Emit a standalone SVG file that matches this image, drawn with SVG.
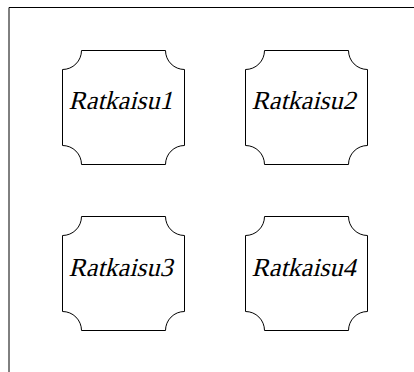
<svg xmlns="http://www.w3.org/2000/svg" width="414" height="372" viewBox="0 0 414 372">
<style>
.frame{fill:none;stroke:#000;stroke-width:1}
.node path{fill:#fff;stroke:#000;stroke-width:1}
.lbl{font-family:'Liberation Serif','Times New Roman',serif;font-size:26px;fill:#000;text-anchor:middle}
</style>
<path class="frame" d="M9 372V7.5H414"/>
<g id="node-ratkaisu1" class="node">
<path d="M81.5 50.5H165.5A19 19 0 0 0 184.5 69.5V145.5A19 19 0 0 0 165.5 164.5H81.5A19 19 0 0 0 62.5 145.5V69.5A19 19 0 0 0 81.5 50.5Z"/>
<text class="lbl" transform="translate(120.5 109) skewX(-14)">Ratkaisu1</text>
</g>
<g id="node-ratkaisu2" class="node">
<path d="M264.5 50.5H348.5A19 19 0 0 0 367.5 69.5V145.5A19 19 0 0 0 348.5 164.5H264.5A19 19 0 0 0 245.5 145.5V69.5A19 19 0 0 0 264.5 50.5Z"/>
<text class="lbl" transform="translate(303.5 109) skewX(-14)">Ratkaisu2</text>
</g>
<g id="node-ratkaisu3" class="node">
<path d="M81.5 216.5H165.5A19 19 0 0 0 184.5 235.5V311.5A19 19 0 0 0 165.5 330.5H81.5A19 19 0 0 0 62.5 311.5V235.5A19 19 0 0 0 81.5 216.5Z"/>
<text class="lbl" transform="translate(120.5 275.5) skewX(-14)">Ratkaisu3</text>
</g>
<g id="node-ratkaisu4" class="node">
<path d="M264.5 216.5H348.5A19 19 0 0 0 367.5 235.5V311.5A19 19 0 0 0 348.5 330.5H264.5A19 19 0 0 0 245.5 311.5V235.5A19 19 0 0 0 264.5 216.5Z"/>
<text class="lbl" transform="translate(303.5 275.5) skewX(-14)">Ratkaisu4</text>
</g>
<g id="connectors"/>
</svg>
